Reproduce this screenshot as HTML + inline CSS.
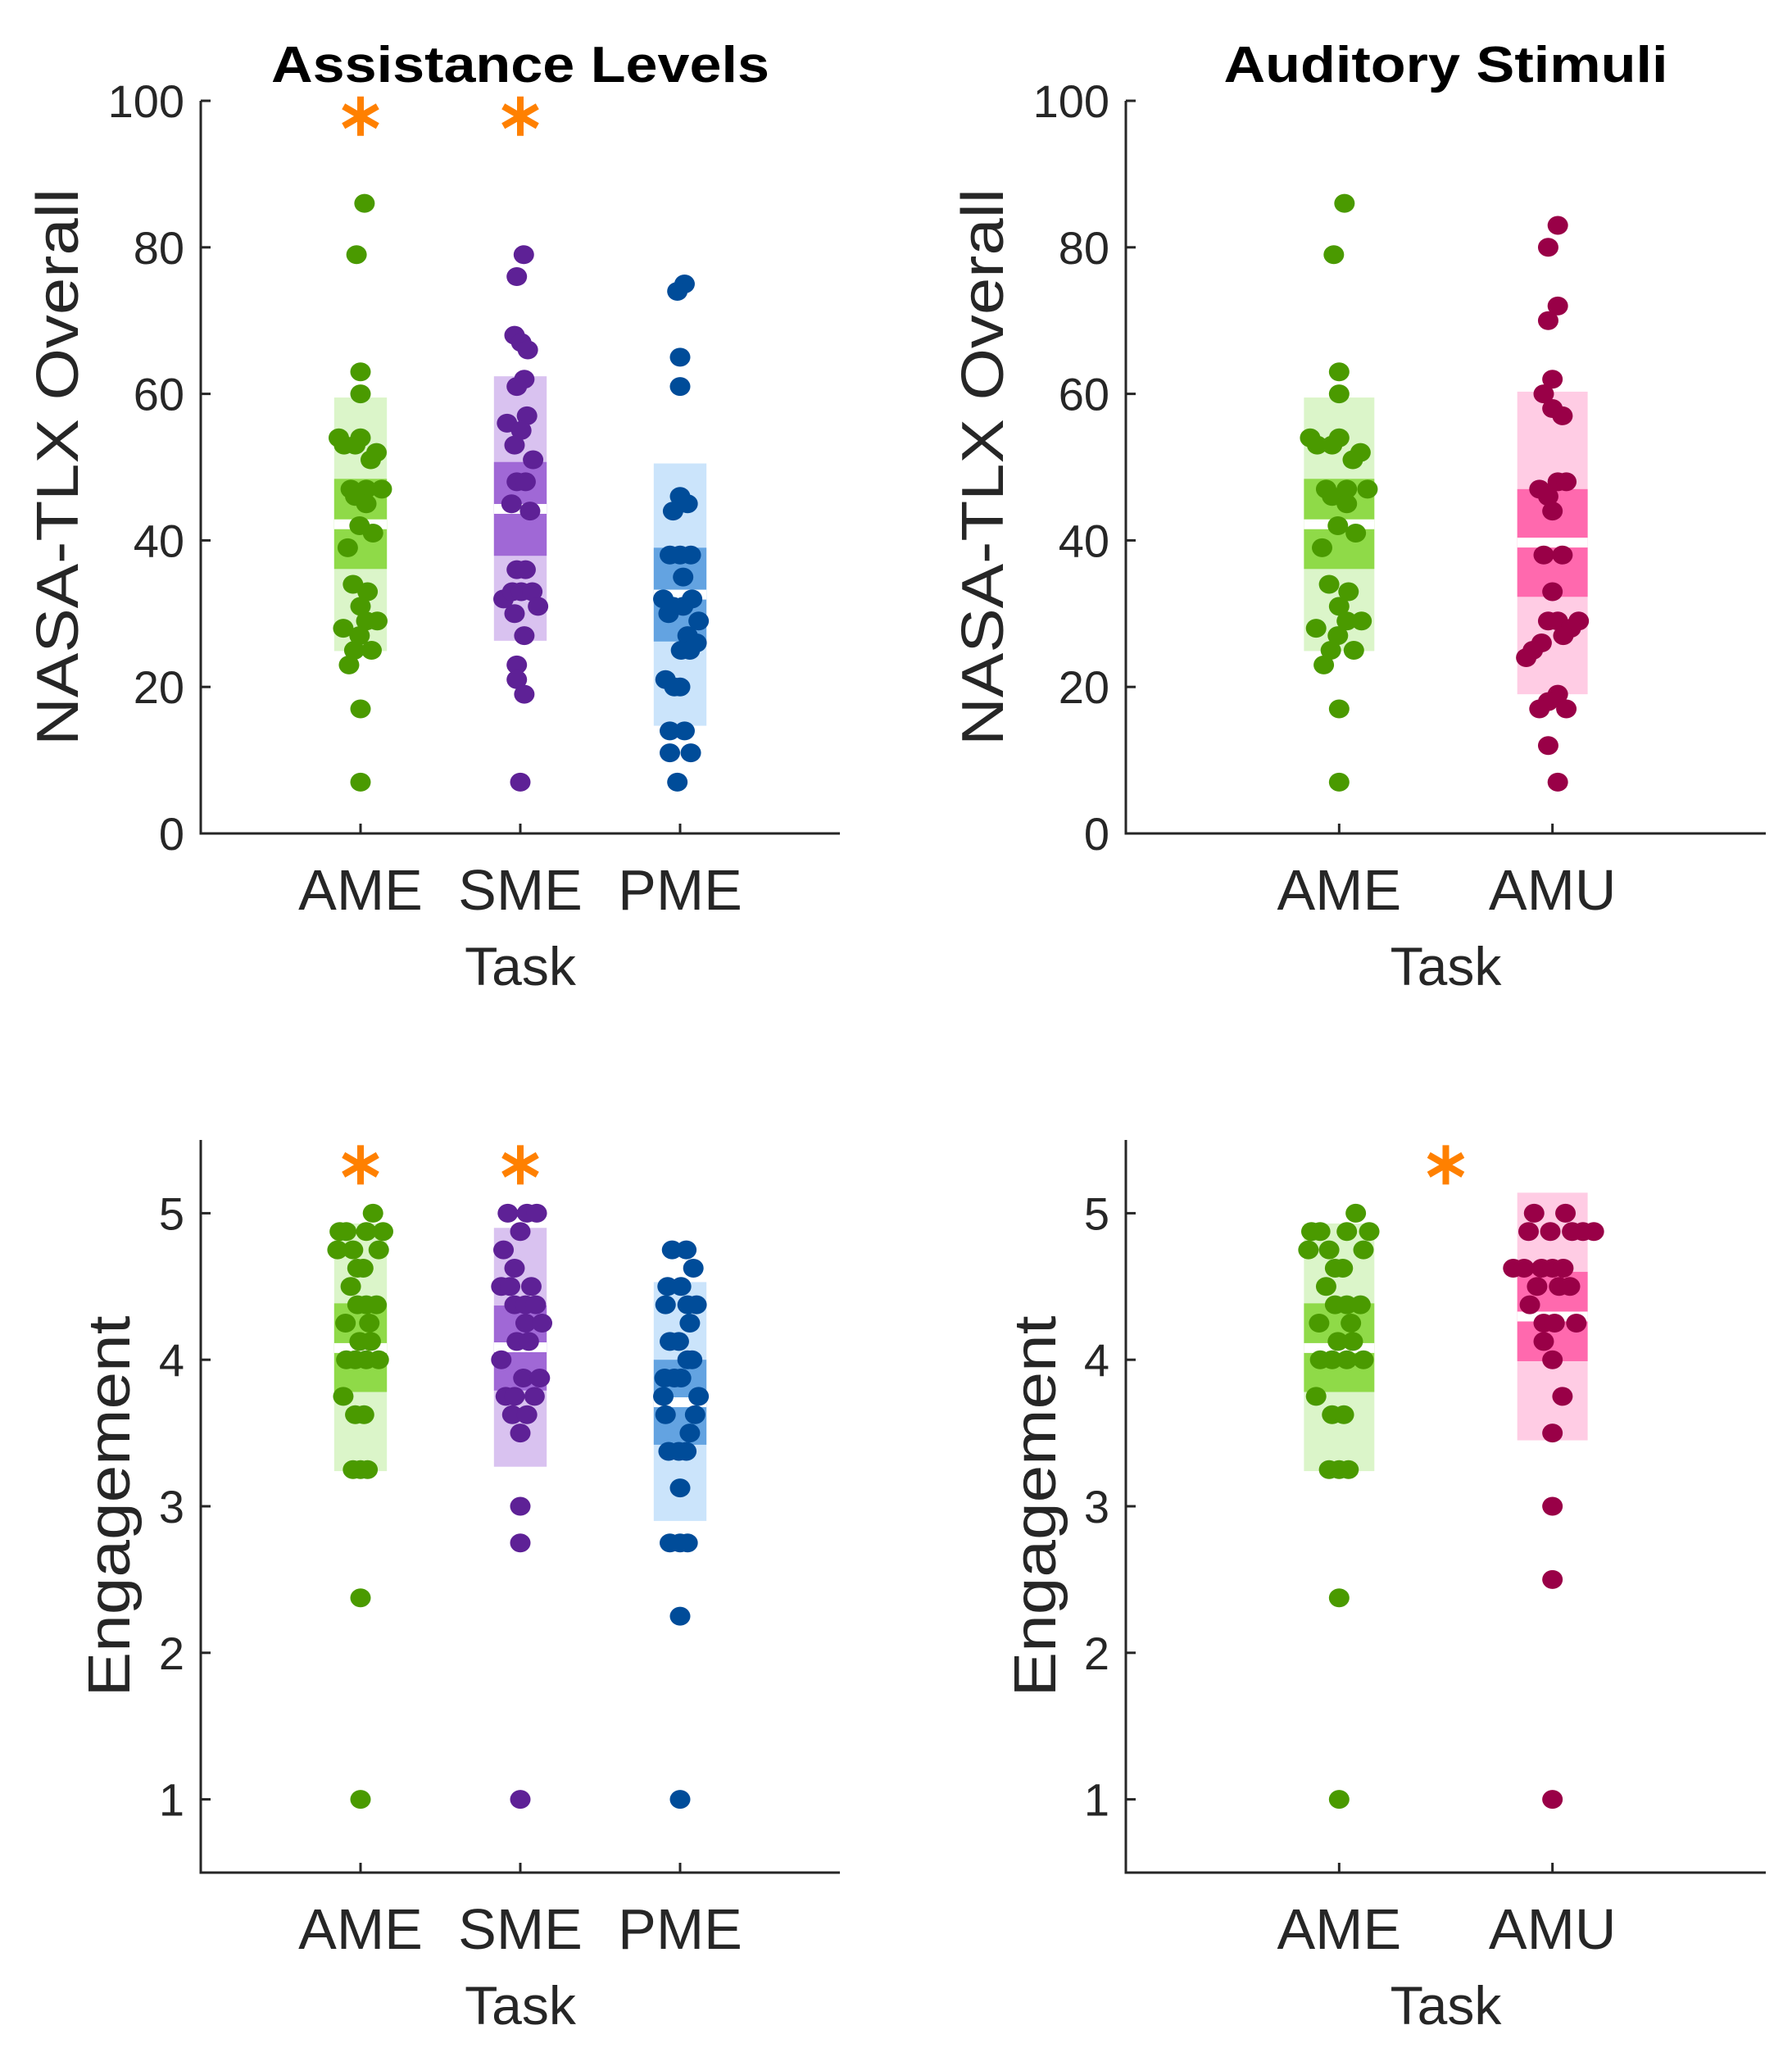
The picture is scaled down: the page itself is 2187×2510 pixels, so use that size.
<!DOCTYPE html>
<html><head><meta charset="utf-8"><style>
html,body{margin:0;padding:0;background:#fff;}
svg{display:block;font-family:"Liberation Sans",Arial,sans-serif;}
</style></head><body>
<svg id="fig" width="2187" height="2510" viewBox="0 0 2187 2510" xmlns="http://www.w3.org/2000/svg"></svg>
<script>
// ---------- data ----------
const catsLeft = ["AME","SME","PME"];
const catsRight = ["AME","AMU"];
const yTicksTLX = [0,20,40,60,80,100];
const yTicksEng = [1,2,3,4,5];

const tlxAME = [86,79,63,60,54,53,53,54,52,51,47,47,47,46,45,42,41,39,34,33,31,29,29,28,27,25,25,23,17,7];
const tlxAMEj = [.025,-.025,0,0,-.136,-.103,-.033,0,.1,.064,-.061,.036,.133,-.033,.036,-.006,.078,-.08,-.047,.044,0,.105,.036,-.108,-.006,-.039,.069,-.072,0,0];
const tlxSME = [79,76,68,67,66,62,61,57,56,55,53,51,48,48,45,44,36,36,32,33,33,33,31,30,27,23,21,19,7];
const tlxSMEj = [.022,-.022,-.036,.006,.047,.025,-.022,.042,-.083,.006,-.036,.08,-.022,.033,-.055,.061,-.022,.033,-.105,-.05,.006,.075,.111,-.036,.025,-.022,-.022,.025,0];
const tlxPME = [75,74,65,61,46,45,44,38,38,38,35,32,31,31,32,30,29,27,26,25,25,21,20,20,14,14,11,11,7];
const tlxPMEj = [.028,-.017,0,0,0,.047,-.044,-.064,0,.067,.019,-.105,-.044,.019,.075,-.072,.116,.047,.103,.006,.061,-.091,-.036,0,-.064,.028,-.064,.067,-.017];
const tlxAMU = [83,80,72,70,62,60,58,57,47,48,48,46,44,38,38,33,29,29,29,28,27,26,25,24,19,18,17,17,12,7];
const tlxAMUj = [.025,-.02,.025,-.02,0,-.041,0,.047,-.061,.025,.065,-.02,0,-.041,.047,0,-.02,.025,.123,.086,.051,-.051,-.092,-.123,.025,-.02,-.061,.065,-.02,.025];

const engAME = [5,4.875,4.875,4.875,4.875,4.75,4.75,4.75,4.625,4.625,4.5,4.375,4.375,4.375,4.25,4.25,4.125,4.125,4,4,4,4,3.75,3.625,3.625,3.25,3.25,3.25,2.375,1];
const engAMEj = [.078,-.13,-.089,.036,.141,-.144,-.047,.114,-.019,.017,-.061,-.019,.036,.1,-.094,.055,-.006,.064,-.089,-.033,.036,.114,-.108,-.033,.022,-.047,0,.044,0,0];
const engSME = [5,5,5,4.875,4.75,4.625,4.5,4.5,4.5,4.375,4.375,4.375,4.25,4.25,4.125,4.125,4,3.875,3.875,3.75,3.75,3.75,3.625,3.625,3.5,3,2.75,1];
const engSMEj = [-.078,.042,.103,0,-.105,-.036,-.119,-.064,.069,-.036,.033,.097,.033,.136,-.022,.053,-.119,.019,.122,-.091,-.036,.089,-.05,.042,0,0,0,0];
const engPME = [4.75,4.75,4.625,4.5,4.5,4.375,4.375,4.375,4.25,4.125,4.125,4,4,3.875,3.875,3.875,3.75,3.75,3.625,3.625,3.5,3.375,3.375,3.375,3.125,2.75,2.75,2.75,2.25,1];
const engPMEj = [-.05,.039,.083,-.078,.006,-.091,.047,.103,.061,-.064,-.008,.047,.075,-.097,-.036,.006,-.105,.116,-.091,.094,.061,-.072,-.008,.039,0,-.064,0,.047,0,0];
const engAMU = [5,5,4.875,4.875,4.875,4.875,4.875,4.625,4.625,4.625,4.625,4.625,4.5,4.5,4.5,4.375,4.25,4.25,4.25,4.125,4,3.75,3.5,3,2.5,1];
const engAMUj = [-.086,.061,-.112,-.01,.092,.143,.194,-.184,-.133,-.051,0,.051,-.072,.031,.082,-.106,-.041,.01,.112,-.041,0,.047,0,0,0,0];

// box stats: [lightLo, darkLo, mean, darkHi, lightHi]
const tlxBoxAME = [24.9,36.1,42.2,48.4,59.5];
const tlxBoxSME = [26.3,37.9,44.3,50.7,62.4];
const tlxBoxPME = [14.7,26.2,32.6,39,50.5];
const tlxBoxAMU = [19,32.3,39.7,47,60.3];
const engBoxAME = [3.24,3.78,4.08,4.385,4.93];
const engBoxSME = [3.27,3.79,4.085,4.37,4.9];
const engBoxPME = [2.9,3.42,3.71,4.0,4.53];
const engBoxAMU = [3.45,3.99,4.295,4.6,5.14];

// significance star positions (category position, y value)
const starsTL = [[1,97.9],[2,97.9]];
const starsBL = [[1,5.33],[2,5.33]];
const starsBR = [[1.5,5.33]];

// ---------- drawing ----------
const NS="http://www.w3.org/2000/svg";
const svg=document.getElementById('fig');
function el(tag,attrs,parent){const e=document.createElementNS(NS,tag);for(const k in attrs)e.setAttribute(k,attrs[k]);(parent||svg).appendChild(e);return e;}
const COL={
 green:{pt:"#4a9a00",light:"#dbf5c9",dark:"#8fda48"},
 purple:{pt:"#5e2196",light:"#d9c2f0",dark:"#a068d6"},
 blue:{pt:"#004c99",light:"#cbe4fb",dark:"#63a3e1"},
 pink:{pt:"#990047",light:"#ffcce4",dark:"#ff69ae"}
};

function panel(o){
  const g=el('g',{});
  
  
  const xs=v=>o.x0+(v-o.xmin)/(o.xmax-o.xmin)*(o.x1-o.x0);
  const ys=v=>o.y1-(v-o.ymin)/(o.ymax-o.ymin)*(o.y1-o.y0);
  const hw=0.165;
  o.groups.forEach((gr,i)=>{
    const c=i+1, col=COL[gr.color], b=gr.box;
    const bg=el('g',{},g);
    
    
    el('rect',{x:xs(c-hw),y:ys(b[4]),width:xs(c+hw)-xs(c-hw),height:ys(b[0])-ys(b[4]),fill:col.light},bg);
    el('rect',{x:xs(c-hw),y:ys(b[3]),width:xs(c+hw)-xs(c-hw),height:ys(b[1])-ys(b[3]),fill:col.dark},bg);
    el('rect',{x:xs(c-hw),y:ys(b[2])-6,width:xs(c+hw)-xs(c-hw),height:12,fill:"#fff"},bg);
    const pg=el('g',{fill:col.pt},g);
    
    
    gr.vals.forEach((v,k)=>{
      const p=el('ellipse',{cx:xs(c+(gr.jit[k]||0)),cy:ys(v),rx:12.5,ry:11.5},pg);
      
      
    });
  });
  const ax=el('path',{d:`M${o.x0},${o.y0} L${o.x0},${o.y1} L${o.x1},${o.y1}`,fill:"none",stroke:"#262626","stroke-width":3},g);
  
  
  o.yticks.forEach(t=>{
    el('line',{x1:o.x0,x2:o.x0+12,y1:ys(t),y2:ys(t),stroke:"#262626","stroke-width":3},g);
    const tx=el('text',{x:o.x0-20,y:ys(t)+20,"text-anchor":"end","font-size":56,fill:"#262626"},g);
    tx.textContent=t;
    
    
  });
  o.groups.forEach((gr,i)=>{
    el('line',{x1:xs(i+1),x2:xs(i+1),y1:o.y1,y2:o.y1-12,stroke:"#262626","stroke-width":3},g);
    const tx=el('text',{x:xs(i+1),y:o.y1+93,"text-anchor":"middle","font-size":70,fill:"#262626"},g);
    tx.textContent=gr.label;
    
    
  });
  const xl=el('text',{x:(o.x0+o.x1)/2,y:o.y1+185,"text-anchor":"middle","font-size":66,fill:"#262626"},g);
  xl.textContent="Task";
  
  
  const yl=el('text',{x:0,y:0,"text-anchor":"middle","font-size":72,fill:"#262626",transform:`translate(${o.ylx},${o.yly}) rotate(-90)`,textLength:o.ylLen,lengthAdjust:"spacingAndGlyphs"},g);
  yl.textContent=o.ylabel;
  
  
  if(o.title){
    const t=el('text',{x:(o.x0+o.x1)/2,y:100,"text-anchor":"middle","font-size":62,"font-weight":"bold",fill:"#000",textLength:o.titleLen,lengthAdjust:"spacingAndGlyphs"},g);
    t.textContent=o.title;
    
    
  }
  (o.stars||[]).forEach(s=>{
    const cx=xs(s[0]), cy=ys(s[1]);
    const sg=el('g',{stroke:"#ff8000","stroke-width":8,"stroke-linecap":"butt"},g);
    
    
    [90,30,150].forEach(a=>{const r=a*Math.PI/180,L=24;
      el('line',{x1:cx-L*Math.cos(r),y1:cy-L*Math.sin(r),x2:cx+L*Math.cos(r),y2:cy+L*Math.sin(r)},sg);});
  });
}

const topY=[123,1017], botY=[1391,2285];
panel({name:'panel-assistance-tlx',x0:245,x1:1025,y0:topY[0],y1:topY[1],xmin:0,xmax:4,ymin:0,ymax:100,yticks:yTicksTLX,
 ylabel:"NASA-TLX Overall",ylx:95,yly:570,ylLen:680,title:"Assistance Levels",titleLen:608,stars:starsTL,
 groups:[{label:catsLeft[0],color:'green',vals:tlxAME,jit:tlxAMEj,box:tlxBoxAME},
         {label:catsLeft[1],color:'purple',vals:tlxSME,jit:tlxSMEj,box:tlxBoxSME},
         {label:catsLeft[2],color:'blue',vals:tlxPME,jit:tlxPMEj,box:tlxBoxPME}]});
panel({name:'panel-auditory-tlx',x0:1374,x1:2155,y0:topY[0],y1:topY[1],xmin:0,xmax:3,ymin:0,ymax:100,yticks:yTicksTLX,
 ylabel:"NASA-TLX Overall",ylx:1224,yly:570,ylLen:680,title:"Auditory Stimuli",titleLen:542,
 groups:[{label:catsRight[0],color:'green',vals:tlxAME,jit:tlxAMEj,box:tlxBoxAME},
         {label:catsRight[1],color:'pink',vals:tlxAMU,jit:tlxAMUj,box:tlxBoxAMU}]});
panel({name:'panel-assistance-engagement',x0:245,x1:1025,y0:botY[0],y1:botY[1],xmin:0,xmax:4,ymin:0.5,ymax:5.5,yticks:yTicksEng,
 ylabel:"Engagement",ylx:158,yly:1838,ylLen:465,stars:starsBL,
 groups:[{label:catsLeft[0],color:'green',vals:engAME,jit:engAMEj,box:engBoxAME},
         {label:catsLeft[1],color:'purple',vals:engSME,jit:engSMEj,box:engBoxSME},
         {label:catsLeft[2],color:'blue',vals:engPME,jit:engPMEj,box:engBoxPME}]});
panel({name:'panel-auditory-engagement',x0:1374,x1:2155,y0:botY[0],y1:botY[1],xmin:0,xmax:3,ymin:0.5,ymax:5.5,yticks:yTicksEng,
 ylabel:"Engagement",ylx:1288,yly:1838,ylLen:465,stars:starsBR,
 groups:[{label:catsRight[0],color:'green',vals:engAME,jit:engAMEj,box:engBoxAME},
         {label:catsRight[1],color:'pink',vals:engAMU,jit:engAMUj,box:engBoxAMU}]});
</script>
</body></html>
